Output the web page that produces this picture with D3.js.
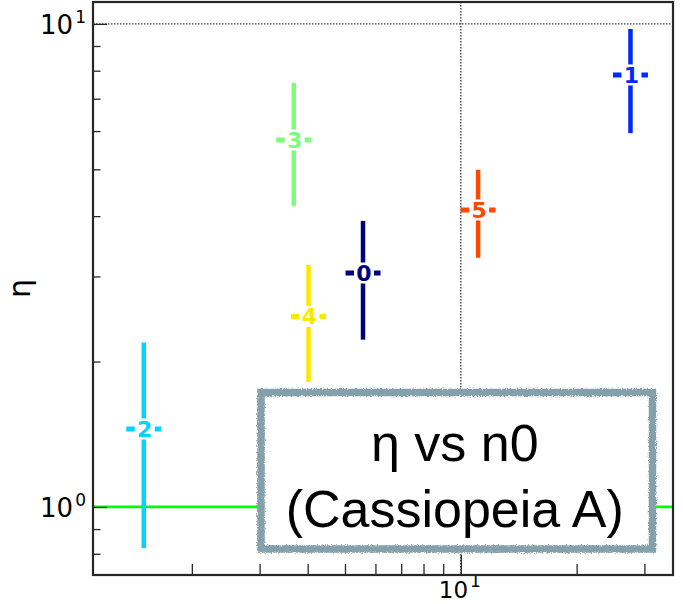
<!DOCTYPE html>
<html><head><meta charset="utf-8">
<script src="https://cdn.jsdelivr.net/npm/d3@7"></script>
<style>body{margin:0;background:#fff}</style>
</head><body><svg id="c" width="683" height="604"></svg>
<script>
// ---- data ----
const labels   = ["0", "1", "2", "3", "4", "5"];
const n0       = [5.57, 27.6, 1.50, 3.68, 4.02, 11.09];
const eta      = [3.05, 7.84, 1.45, 5.75, 2.48, 4.12];
const etaLow   = [2.22, 5.94, 0.822, 4.20, 1.815, 3.28];
const etaHigh  = [3.91, 9.76, 2.19, 7.55, 3.17, 4.99];
const colors   = ["#000080", "#002aff", "#00d4ff", "#7bff7b", "#ffe600", "#ff4800"];
const xMajor   = [10];
const xMinor   = [2, 3, 4, 5, 6, 7, 8, 9, 20, 30];
const yMajor   = [1, 10];
const yMinor   = [0.8, 0.9, 2, 3, 4, 5, 6, 7, 8, 9];
const refEta   = 1;
const yLabel   = "η";
const titleLines = ["η vs n0", "(Cassiopeia A)"];

// ---- layout ----
const L = 93, R = 673, T = 2, B = 575;
const svg = d3.select("#c");
const x = d3.scaleLog().domain([1.107, 35.6]).range([L, R]);
const y = d3.scaleLog().domain([0.723, 11.1]).range([B, T]);
const axisCol = "#262626";
const font = "'DejaVu Sans', sans-serif";

// filter for rough border
const defs = svg.append("defs");
const f = defs.append("filter").attr("id", "rough").attr("x", "-5%").attr("y", "-5%").attr("width", "110%").attr("height", "110%");
f.append("feTurbulence").attr("type", "fractalNoise").attr("baseFrequency", 0.8).attr("numOctaves", 2).attr("seed", 3).attr("result", "n");
f.append("feDisplacementMap").attr("in", "SourceGraphic").attr("in2", "n").attr("scale", 4).attr("xChannelSelector", "R").attr("yChannelSelector", "G");

// grid (major only, dotted)
const grid = svg.append("g").attr("stroke", "#444").attr("stroke-width", 1.4).attr("stroke-dasharray", "1.5,1.5");
grid.selectAll(".gx").data(xMajor).join("line")
  .attr("x1", d => x(d)).attr("x2", d => x(d)).attr("y1", T).attr("y2", B);
grid.selectAll(".gy").data(yMajor.filter(v => v !== refEta)).join("line")
  .attr("x1", L).attr("x2", R).attr("y1", d => y(d)).attr("y2", d => y(d));

// reference line eta = 1
svg.append("line").attr("x1", L).attr("x2", R).attr("y1", y(refEta)).attr("y2", y(refEta))
  .attr("stroke", "#00ff00").attr("stroke-width", 2.7);

// axes ticks (inward)
function ticks(g, axis) { g.call(axis); g.select(".domain").remove(); g.selectAll("line").attr("stroke", axisCol).attr("stroke-width", 1.3); g.selectAll("text").remove(); }
svg.append("g").attr("transform", `translate(0,${B})`).call(g => ticks(g, d3.axisBottom(x).tickValues(xMinor).tickSize(-11)));
svg.append("g").attr("transform", `translate(0,${B})`).call(g => ticks(g, d3.axisBottom(x).tickValues(xMajor).tickSize(-20)));
svg.append("g").attr("transform", `translate(${L},0)`).call(g => ticks(g, d3.axisLeft(y).tickValues(yMinor).tickSize(-7.5)));
svg.append("g").attr("transform", `translate(${L},0)`).call(g => ticks(g, d3.axisLeft(y).tickValues(yMajor).tickSize(-14)));

// tick labels 10^n
function sup(sel) {
  sel.append("tspan").text(d => "10");
  sel.append("tspan").attr("dx", 2).attr("dy", -11).attr("font-size", 17).text(d => Math.round(Math.log10(d)));
}
svg.append("g").selectAll("text").data(yMajor).join("text")
  .attr("x", 86).attr("y", d => y(d) + 10).attr("text-anchor", "end")
  .attr("font-family", font).attr("font-size", 26).attr("fill", "#000").call(sup);
svg.append("g").selectAll("text").data(xMajor).join("text")
  .attr("x", d => x(d) - 1).attr("y", 598).attr("text-anchor", "middle")
  .attr("font-family", font).attr("font-size", 23).attr("fill", "#000").call(sup);

// y label
svg.append("text").attr("transform", `translate(30,${(T + B) / 2}) rotate(-90)`)
  .attr("text-anchor", "middle").attr("font-family", font).attr("font-size", 30).text(yLabel);

// annotation box
const bx = 261, by = 392.5, bw = 391.5, bh = 156.5;
svg.append("rect").attr("x", bx).attr("y", by).attr("width", bw).attr("height", bh).attr("fill", "#fff");
svg.append("rect").attr("x", bx).attr("y", by).attr("width", bw).attr("height", bh)
  .attr("fill", "none").attr("stroke", "#84a0aa").attr("stroke-width", 7.5).attr("filter", "url(#rough)");
svg.append("g").selectAll("text").data(titleLines).join("text")
  .attr("x", bx + bw / 2 - 2).attr("y", (d, i) => 461 + i * 66).attr("text-anchor", "middle")
  .attr("font-family", "'Liberation Sans', Arial, sans-serif").attr("font-size", 52).attr("fill", "#000").text(d => d);

// error bars with labelled markers
const pts = labels.map((l, i) => ({ l, x: n0[i], y: eta[i], lo: etaLow[i], hi: etaHigh[i], c: colors[i] }));
const pg = svg.append("g").selectAll("g").data(pts).join("g");
pg.append("line").attr("x1", d => x(d.x)).attr("x2", d => x(d.x)).attr("y1", d => y(d.lo)).attr("y2", d => y(d.hi))
  .attr("stroke", d => d.c).attr("stroke-width", 4.5);
pg.append("line").attr("x1", d => x(d.x) - 17.5).attr("x2", d => x(d.x) + 17.5).attr("y1", d => y(d.y)).attr("y2", d => y(d.y))
  .attr("stroke", d => d.c).attr("stroke-width", 5);
pg.append("rect").attr("x", d => x(d.x) + 1 - 10).attr("y", d => y(d.y) - 10.5).attr("width", 20).attr("height", 21).attr("fill", "#fff");
pg.append("text").attr("x", d => x(d.x) + 1).attr("y", d => y(d.y) + 8).attr("text-anchor", "middle")
  .attr("font-family", font).attr("font-weight", "bold").attr("font-size", 22).attr("fill", d => d.c).text(d => d.l);

// frame
svg.append("rect").attr("x", L).attr("y", T).attr("width", R - L).attr("height", B - T)
  .attr("fill", "none").attr("stroke", axisCol).attr("stroke-width", 2.2);
</script></body></html>
